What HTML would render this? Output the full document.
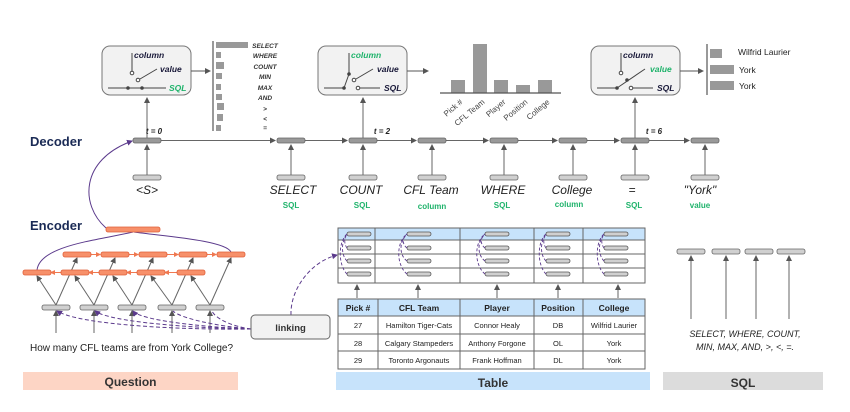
<!DOCTYPE html>
<html><head><meta charset="utf-8"><style>
html,body{margin:0;padding:0;background:#fff}
svg{display:block}
text{font-family:"Liberation Sans",sans-serif}
.it{font-family:"Liberation Serif",serif;font-style:italic}
.sw{font-family:"Liberation Sans",sans-serif;font-style:italic;font-weight:bold;font-size:8.5px;fill:#1a1a3a}
.gr{fill:#1fb36b}
.bl{font-family:"Liberation Serif",serif;font-style:italic;font-weight:bold;font-size:6.5px;fill:#333}
</style></head><body>
<svg width="850" height="412" viewBox="0 0 850 412" xmlns="http://www.w3.org/2000/svg">
<defs>
<marker id="a" markerWidth="6" markerHeight="6" refX="5" refY="3" orient="auto" markerUnits="userSpaceOnUse"><path d="M0,0L6,3L0,6z" fill="#555"/></marker>
<marker id="p" markerWidth="6" markerHeight="6" refX="5" refY="3" orient="auto" markerUnits="userSpaceOnUse"><path d="M0,0L6,3L0,6z" fill="#5b3a8c"/></marker>
<marker id="o" markerWidth="5" markerHeight="5" refX="4" refY="2.5" orient="auto" markerUnits="userSpaceOnUse"><path d="M0,0L5,2.5L0,5z" fill="#f07850"/></marker>
</defs>

<!-- switch boxes -->
<g>
<rect x="102" y="46" width="89" height="49" rx="8" fill="#f2f2f2" stroke="#777" stroke-width="1"/>
<line x1="132" y1="53" x2="132" y2="71" stroke="#444"/><circle cx="132" cy="73" r="1.8" fill="#fff" stroke="#444"/>
<text x="134" y="58" class="sw">column</text>
<line x1="140" y1="79" x2="157" y2="69" stroke="#444"/><circle cx="138" cy="80" r="1.8" fill="#fff" stroke="#444"/>
<text x="160" y="72" class="sw">value</text>
<line x1="108" y1="88" x2="166" y2="88" stroke="#444"/><circle cx="128" cy="88" r="1.8" fill="#444"/><circle cx="142" cy="88" r="1.8" fill="#444"/>
<text x="169" y="91" class="sw gr" style="fill:#1fb36b">SQL</text>
</g>
<g>
<rect x="318" y="46" width="89" height="49" rx="8" fill="#f2f2f2" stroke="#777"/>
<line x1="349" y1="53" x2="349" y2="73" stroke="#444"/><circle cx="349" cy="74" r="1.8" fill="#444"/>
<text x="351" y="58" class="sw" style="fill:#1fb36b">column</text>
<line x1="356" y1="79" x2="373" y2="69" stroke="#444"/><circle cx="354" cy="80" r="1.8" fill="#fff" stroke="#444"/>
<text x="377" y="72" class="sw">value</text>
<line x1="324" y1="88" x2="344" y2="88" stroke="#444"/><line x1="344" y1="88" x2="349" y2="74" stroke="#444"/><circle cx="344" cy="88" r="1.8" fill="#444"/>
<circle cx="358" cy="88" r="1.8" fill="#fff" stroke="#444"/><line x1="360" y1="88" x2="380" y2="88" stroke="#444"/>
<text x="384" y="91" class="sw">SQL</text>
</g>
<g>
<rect x="591" y="46" width="89" height="49" rx="8" fill="#f2f2f2" stroke="#777"/>
<line x1="621" y1="53" x2="621" y2="71" stroke="#444"/><circle cx="621" cy="73" r="1.8" fill="#fff" stroke="#444"/>
<text x="623" y="58" class="sw">column</text>
<line x1="617" y1="88" x2="645" y2="69" stroke="#444"/><circle cx="627" cy="80" r="1.8" fill="#444"/>
<text x="650" y="72" class="sw" style="fill:#1fb36b">value</text>
<line x1="597" y1="88" x2="617" y2="88" stroke="#444"/><circle cx="617" cy="88" r="1.8" fill="#444"/>
<circle cx="631" cy="88" r="1.8" fill="#fff" stroke="#444"/><line x1="633" y1="88" x2="653" y2="88" stroke="#444"/>
<text x="657" y="91" class="sw">SQL</text>
</g>

<!-- box arrows -->
<line x1="191" y1="71" x2="210" y2="71" stroke="#555" marker-end="url(#a)"/>
<line x1="407" y1="71" x2="428" y2="71" stroke="#555" marker-end="url(#a)"/>
<line x1="680" y1="71" x2="703" y2="71" stroke="#555" marker-end="url(#a)"/>

<!-- bar chart 1 -->
<line x1="213" y1="41" x2="213" y2="131" stroke="#555" stroke-width="1.2"/>
<g fill="#999">
<rect x="216" y="42" width="32" height="6"/><rect x="216" y="52" width="5" height="6"/><rect x="216" y="62" width="8" height="7"/>
<rect x="216" y="73" width="6" height="6"/><rect x="216" y="84" width="5" height="6"/><rect x="216" y="94" width="6" height="6"/>
<rect x="217" y="103" width="7" height="7"/><rect x="217" y="114" width="6" height="7"/><rect x="216" y="125" width="5" height="6"/>
</g>
<g class="bl" text-anchor="middle">
<text x="265" y="48">SELECT</text><text x="265" y="58">WHERE</text><text x="265" y="69">COUNT</text><text x="265" y="79">MIN</text>
<text x="265" y="90">MAX</text><text x="265" y="100">AND</text><text x="265" y="111">&gt;</text><text x="265" y="121">&lt;</text><text x="265" y="130">=</text>
</g>

<!-- bar chart 2 -->
<g fill="#999">
<rect x="451" y="80" width="14" height="13"/><rect x="473" y="44" width="14" height="49"/><rect x="494" y="80" width="14" height="13"/>
<rect x="516" y="85" width="14" height="8"/><rect x="538" y="80" width="14" height="13"/>
</g>
<line x1="440" y1="93" x2="561" y2="93" stroke="#555" stroke-width="1.2"/>
<g font-size="8" fill="#444">
<text transform="translate(460,99) rotate(-40)" text-anchor="end" x="0" y="5">Pick #</text>
<text transform="translate(482,99) rotate(-40)" text-anchor="end" x="0" y="5">CFL Team</text>
<text transform="translate(503,99) rotate(-40)" text-anchor="end" x="0" y="5">Player</text>
<text transform="translate(525,99) rotate(-40)" text-anchor="end" x="0" y="5">Position</text>
<text transform="translate(547,99) rotate(-40)" text-anchor="end" x="0" y="5">College</text>
</g>

<!-- bar chart 3 -->
<line x1="707" y1="44" x2="707" y2="95" stroke="#555" stroke-width="1.2"/>
<g fill="#999"><rect x="710" y="49" width="12" height="9"/><rect x="710" y="65" width="24" height="9"/><rect x="710" y="81" width="24" height="9"/></g>
<g font-size="8.5" fill="#222"><text x="738" y="55">Wilfrid Laurier</text><text x="739" y="73">York</text><text x="739" y="89">York</text></g>

<!-- decoder -->
<text x="30" y="146" font-size="13" font-weight="bold" fill="#1a2a55">Decoder</text>
<g stroke="#666" fill="none">
<line x1="161" y1="140.5" x2="275" y2="140.5" marker-end="url(#a)"/>
<line x1="305" y1="140.5" x2="347" y2="140.5" marker-end="url(#a)"/>
<line x1="376" y1="140.5" x2="416" y2="140.5" marker-end="url(#a)"/>
<line x1="446" y1="140.5" x2="488" y2="140.5" marker-end="url(#a)"/>
<line x1="517" y1="140.5" x2="557" y2="140.5" marker-end="url(#a)"/>
<line x1="586" y1="140.5" x2="619" y2="140.5" marker-end="url(#a)"/>
<line x1="649" y1="140.5" x2="689" y2="140.5" marker-end="url(#a)"/>
<line x1="147" y1="138" x2="147" y2="98" marker-end="url(#a)"/>
<line x1="363" y1="138" x2="363" y2="98" marker-end="url(#a)"/>
<line x1="635" y1="138" x2="635" y2="98" marker-end="url(#a)"/>
</g>
<g stroke="#666">
<line x1="147" y1="175" x2="147" y2="145" marker-end="url(#a)"/>
<line x1="291" y1="175" x2="291" y2="145" marker-end="url(#a)"/>
<line x1="363" y1="175" x2="363" y2="145" marker-end="url(#a)"/>
<line x1="432" y1="175" x2="432" y2="145" marker-end="url(#a)"/>
<line x1="504" y1="175" x2="504" y2="145" marker-end="url(#a)"/>
<line x1="573" y1="175" x2="573" y2="145" marker-end="url(#a)"/>
<line x1="635" y1="175" x2="635" y2="145" marker-end="url(#a)"/>
<line x1="705" y1="175" x2="705" y2="145" marker-end="url(#a)"/>
</g>
<g fill="#999" stroke="#666" stroke-width="0.8">
<rect x="133" y="138" width="28" height="5" rx="2"/><rect x="277" y="138" width="28" height="5" rx="2"/><rect x="349" y="138" width="28" height="5" rx="2"/>
<rect x="418" y="138" width="28" height="5" rx="2"/><rect x="490" y="138" width="28" height="5" rx="2"/><rect x="559" y="138" width="28" height="5" rx="2"/>
<rect x="621" y="138" width="28" height="5" rx="2"/><rect x="691" y="138" width="28" height="5" rx="2"/>
</g>
<g fill="#d0d0d0" stroke="#666" stroke-width="0.8">
<rect x="133" y="175" width="28" height="5" rx="2"/><rect x="277" y="175" width="28" height="5" rx="2"/><rect x="349" y="175" width="28" height="5" rx="2"/>
<rect x="418" y="175" width="28" height="5" rx="2"/><rect x="490" y="175" width="28" height="5" rx="2"/><rect x="559" y="175" width="28" height="5" rx="2"/>
<rect x="621" y="175" width="28" height="5" rx="2"/><rect x="691" y="175" width="28" height="5" rx="2"/>
</g>
<g class="it" font-size="11" font-weight="bold" fill="#222" text-anchor="middle">
<text x="154" y="134" font-size="8">t = 0</text><text x="382" y="134" font-size="8">t = 2</text><text x="654" y="134" font-size="8">t = 6</text>
</g>
<g class="it" font-size="12" fill="#222" text-anchor="middle">
<text x="147" y="194">&lt;S&gt;</text><text x="293" y="194">SELECT</text><text x="361" y="194">COUNT</text><text x="431" y="194">CFL Team</text>
<text x="503" y="194">WHERE</text><text x="572" y="194">College</text><text x="632" y="194">=</text><text x="700" y="194">"York"</text>
</g>
<g font-size="8" font-weight="bold" fill="#1fb36b" text-anchor="middle">
<text x="291" y="208">SQL</text><text x="362" y="208">SQL</text><text x="432" y="209">column</text><text x="502" y="208">SQL</text>
<text x="569" y="207">column</text><text x="634" y="208">SQL</text><text x="700" y="208">value</text>
</g>

<!-- encoder -->
<text x="30" y="230" font-size="13" font-weight="bold" fill="#1a2a55">Encoder</text>
<path d="M106,228 C80,205 80,160 132,141" stroke="#5b3a8c" fill="none" marker-end="url(#p)"/>
<path d="M37,270 C40,245 100,240 133,232" stroke="#5b3a8c" fill="none"/>
<path d="M231,252 C225,240 160,236 134,232" stroke="#5b3a8c" fill="none"/>
<g stroke="#f07850" stroke-width="1">
<line x1="91" y1="254.5" x2="100" y2="254.5" marker-end="url(#o)"/><line x1="129" y1="254.5" x2="138" y2="254.5" marker-end="url(#o)"/>
<line x1="167" y1="254.5" x2="178" y2="254.5" marker-end="url(#o)"/><line x1="207" y1="254.5" x2="216" y2="254.5" marker-end="url(#o)"/>
<line x1="61" y1="272.5" x2="51" y2="272.5" marker-end="url(#o)"/><line x1="99" y1="272.5" x2="89" y2="272.5" marker-end="url(#o)"/>
<line x1="137" y1="272.5" x2="127" y2="272.5" marker-end="url(#o)"/><line x1="177" y1="272.5" x2="165" y2="272.5" marker-end="url(#o)"/>
</g>
<g stroke="#666">
<line x1="56" y1="305" x2="77" y2="258" marker-end="url(#a)"/><line x1="56" y1="305" x2="37" y2="276" marker-end="url(#a)"/>
<line x1="94" y1="305" x2="115" y2="258" marker-end="url(#a)"/><line x1="94" y1="305" x2="75" y2="276" marker-end="url(#a)"/>
<line x1="132" y1="305" x2="153" y2="258" marker-end="url(#a)"/><line x1="132" y1="305" x2="113" y2="276" marker-end="url(#a)"/>
<line x1="172" y1="305" x2="193" y2="258" marker-end="url(#a)"/><line x1="172" y1="305" x2="151" y2="276" marker-end="url(#a)"/>
<line x1="210" y1="305" x2="231" y2="258" marker-end="url(#a)"/><line x1="210" y1="305" x2="191" y2="276" marker-end="url(#a)"/>
<line x1="56" y1="333" x2="56" y2="311" marker-end="url(#a)"/><line x1="94" y1="333" x2="94" y2="311" marker-end="url(#a)"/>
<line x1="132" y1="333" x2="132" y2="311" marker-end="url(#a)"/><line x1="172" y1="333" x2="172" y2="311" marker-end="url(#a)"/>
<line x1="210" y1="333" x2="210" y2="311" marker-end="url(#a)"/>
</g>
<g fill="#f7906a" stroke="#e0603a" stroke-width="0.8">
<rect x="106" y="227" width="54" height="5" rx="2"/>
<rect x="63" y="252" width="28" height="5" rx="2"/><rect x="101" y="252" width="28" height="5" rx="2"/><rect x="139" y="252" width="28" height="5" rx="2"/>
<rect x="179" y="252" width="28" height="5" rx="2"/><rect x="217" y="252" width="28" height="5" rx="2"/>
<rect x="23" y="270" width="28" height="5" rx="2"/><rect x="61" y="270" width="28" height="5" rx="2"/><rect x="99" y="270" width="28" height="5" rx="2"/>
<rect x="137" y="270" width="28" height="5" rx="2"/><rect x="177" y="270" width="28" height="5" rx="2"/>
</g>
<g fill="#d0d0d0" stroke="#666" stroke-width="0.8">
<rect x="42" y="305" width="28" height="5" rx="2"/><rect x="80" y="305" width="28" height="5" rx="2"/><rect x="118" y="305" width="28" height="5" rx="2"/>
<rect x="158" y="305" width="28" height="5" rx="2"/><rect x="196" y="305" width="28" height="5" rx="2"/>
</g>
<!-- linking dashed -->
<g stroke="#5b3a8c" fill="none" stroke-dasharray="4,2.5" stroke-width="1">
<path d="M251,329 C180,330 80,325 57,311" marker-end="url(#p)"/>
<path d="M251,329 C190,328 110,322 95,311" marker-end="url(#p)"/>
<path d="M251,329 C200,327 140,320 133,311" marker-end="url(#p)"/>
<path d="M251,329 C215,326 180,318 173,311"/>
<path d="M251,329 C230,326 215,318 212,311"/>
<path d="M291,315 C290,290 310,262 337,255" marker-end="url(#p)"/>
</g>
<text x="30" y="351" font-size="10" fill="#222">How many CFL teams are from York College?</text>
<rect x="251" y="315" width="79" height="24" rx="4" fill="#f2f2f2" stroke="#666"/>
<text x="290.5" y="331" font-size="9.5" font-weight="bold" text-anchor="middle" fill="#333">linking</text>

<!-- upper table -->
<rect x="338" y="228" width="307" height="12" fill="#c7e3fb"/>
<g stroke="#666" fill="none" stroke-width="1">
<rect x="338" y="228" width="307" height="55"/>
<line x1="338" y1="240" x2="645" y2="240"/><line x1="338" y1="254" x2="645" y2="254"/><line x1="338" y1="268" x2="645" y2="268"/>
<line x1="375" y1="228" x2="375" y2="283"/><line x1="460" y1="228" x2="460" y2="283"/><line x1="534" y1="228" x2="534" y2="283"/><line x1="583" y1="228" x2="583" y2="283"/>
</g>
<g fill="#d0d0d0" stroke="#555" stroke-width="0.8">
<rect x="347" y="232" width="24" height="4" rx="2"/><rect x="347" y="246" width="24" height="4" rx="2"/><rect x="347" y="259" width="24" height="4" rx="2"/><rect x="347" y="272" width="24" height="4" rx="2"/>
<rect x="407" y="232" width="24" height="4" rx="2"/><rect x="407" y="246" width="24" height="4" rx="2"/><rect x="407" y="259" width="24" height="4" rx="2"/><rect x="407" y="272" width="24" height="4" rx="2"/>
<rect x="485" y="232" width="24" height="4" rx="2"/><rect x="485" y="246" width="24" height="4" rx="2"/><rect x="485" y="259" width="24" height="4" rx="2"/><rect x="485" y="272" width="24" height="4" rx="2"/>
<rect x="546" y="232" width="24" height="4" rx="2"/><rect x="546" y="246" width="24" height="4" rx="2"/><rect x="546" y="259" width="24" height="4" rx="2"/><rect x="546" y="272" width="24" height="4" rx="2"/>
<rect x="604" y="232" width="24" height="4" rx="2"/><rect x="604" y="246" width="24" height="4" rx="2"/><rect x="604" y="259" width="24" height="4" rx="2"/><rect x="604" y="272" width="24" height="4" rx="2"/>
</g>
<g stroke="#5b3a8c" fill="none" stroke-dasharray="3,2" stroke-width="0.9">
<path d="M347,274 C338,265 338,242 347,234"/><path d="M347,261 C341,255 341,242 347,234"/><path d="M347,248 C344,244 344,238 347,234"/>
<path d="M407,274 C396,265 396,242 407,234"/><path d="M407,261 C399,255 399,242 407,234"/><path d="M407,248 C402,244 402,238 407,234"/>
<path d="M485,274 C474,265 474,242 485,234"/><path d="M485,261 C477,255 477,242 485,234"/><path d="M485,248 C480,244 480,238 485,234"/>
<path d="M546,274 C537,265 537,242 546,234"/><path d="M546,261 C540,255 540,242 546,234"/><path d="M546,248 C543,244 543,238 546,234"/>
<path d="M604,274 C595,265 595,242 604,234"/><path d="M604,261 C598,255 598,242 604,234"/><path d="M604,248 C601,244 601,238 604,234"/>
</g>
<g stroke="#666">
<line x1="357" y1="298" x2="357" y2="285" marker-end="url(#a)"/><line x1="418" y1="298" x2="418" y2="285" marker-end="url(#a)"/>
<line x1="497" y1="298" x2="497" y2="285" marker-end="url(#a)"/><line x1="558" y1="298" x2="558" y2="285" marker-end="url(#a)"/>
<line x1="618" y1="298" x2="618" y2="285" marker-end="url(#a)"/>
</g>

<!-- lower table -->
<rect x="338" y="299" width="307" height="17" fill="#c7e3fb"/>
<g stroke="#666" fill="none" stroke-width="1">
<rect x="338" y="299" width="307" height="70"/>
<line x1="338" y1="316" x2="645" y2="316"/><line x1="338" y1="334" x2="645" y2="334"/><line x1="338" y1="351" x2="645" y2="351"/>
<line x1="378" y1="299" x2="378" y2="369"/><line x1="460" y1="299" x2="460" y2="369"/><line x1="534" y1="299" x2="534" y2="369"/><line x1="583" y1="299" x2="583" y2="369"/>
</g>
<g font-size="8.5" font-weight="bold" fill="#222" text-anchor="middle">
<text x="358" y="311">Pick #</text><text x="419" y="311">CFL Team</text><text x="497" y="311">Player</text><text x="558" y="311">Position</text><text x="614" y="311">College</text>
</g>
<g font-size="7.5" fill="#222" text-anchor="middle">
<text x="358" y="328">27</text><text x="419" y="328">Hamilton Tiger-Cats</text><text x="497" y="328">Connor Healy</text><text x="558" y="328">DB</text><text x="614" y="328">Wilfrid Laurier</text>
<text x="358" y="346">28</text><text x="419" y="346">Calgary Stampeders</text><text x="497" y="346">Anthony Forgone</text><text x="558" y="346">OL</text><text x="614" y="346">York</text>
<text x="358" y="363">29</text><text x="419" y="363">Toronto Argonauts</text><text x="497" y="363">Frank Hoffman</text><text x="558" y="363">DL</text><text x="614" y="363">York</text>
</g>

<!-- SQL -->
<g stroke="#666">
<line x1="691" y1="319" x2="691" y2="256" marker-end="url(#a)"/><line x1="726" y1="319" x2="726" y2="256" marker-end="url(#a)"/>
<line x1="756" y1="319" x2="756" y2="256" marker-end="url(#a)"/><line x1="789" y1="319" x2="789" y2="256" marker-end="url(#a)"/>
</g>
<g fill="#d0d0d0" stroke="#666" stroke-width="0.8">
<rect x="677" y="249" width="28" height="5" rx="2"/><rect x="712" y="249" width="28" height="5" rx="2"/><rect x="745" y="249" width="28" height="5" rx="2"/><rect x="777" y="249" width="28" height="5" rx="2"/>
</g>
<g class="it" font-size="9" fill="#222" text-anchor="middle">
<text x="745" y="337">SELECT, WHERE, COUNT,</text><text x="745" y="350">MIN, MAX, AND, &gt;, &lt;, =.</text>
</g>

<!-- banners -->
<rect x="23" y="372" width="215" height="18" fill="#fdd5c5"/>
<text x="130.5" y="386" font-size="12" font-weight="bold" text-anchor="middle" fill="#333">Question</text>
<rect x="336" y="372" width="314" height="18" fill="#c7e3fb"/>
<text x="493" y="387" font-size="12" font-weight="bold" text-anchor="middle" fill="#333">Table</text>
<rect x="663" y="372" width="160" height="18" fill="#dcdcdc"/>
<text x="743" y="387" font-size="12" font-weight="bold" text-anchor="middle" fill="#333">SQL</text>
</svg>
</body></html>
